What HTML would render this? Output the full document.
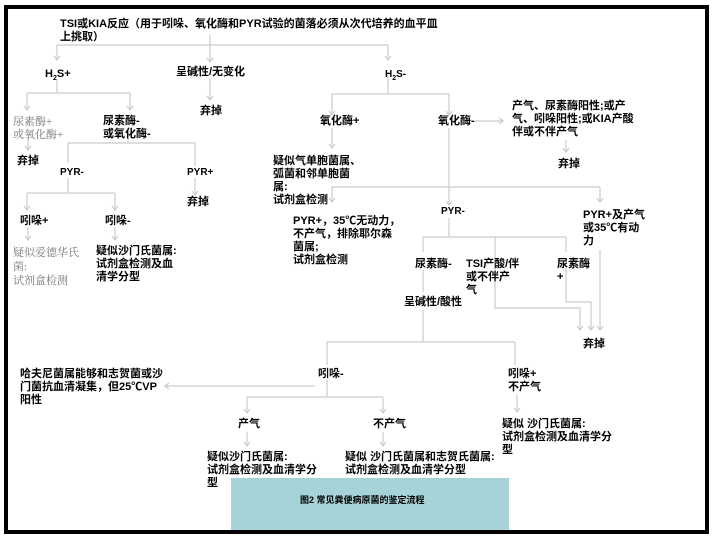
<!DOCTYPE html>
<html><head><meta charset="utf-8"><style>
html,body{margin:0;padding:0;background:#fff}
#c{position:relative;width:718px;height:538px;overflow:hidden;background:#fff;font-family:"Liberation Sans","Noto Sans CJK SC",sans-serif;font-weight:bold;font-size:11px;line-height:13px;color:#000}
.t{position:absolute;white-space:nowrap}
.g{color:#777;font-family:"Liberation Serif","Noto Serif CJK SC",serif;font-weight:normal}
svg{position:absolute;left:0;top:0}
</style></head><body><div id="c">
<svg width="718" height="538">
<rect x="6" y="7" width="701" height="525" fill="none" stroke="#000" stroke-width="4"/>
<rect x="231" y="478" width="278" height="52" fill="#a6d3d7"/>
<g stroke="#ccc" stroke-width="1.2" fill="none">
<path d="M57 45H388M57 45V60M388 45V60M210 35V62"/>
<path d="M57 80V93M27 93H130M27 93V110M130 93V110"/>
<path d="M210 78V100M28 138V150"/>
<path d="M128 138V143M68 143H195M68 143V163M195 143V166M195 178V195"/>
<path d="M68 178V193M27 193H115M27 193V210M115 193V210M28 227V240M115 227V240"/>
<path d="M388 75V94M332 94H449M332 94V115M449 94V115M475 121H503M566 140V152"/>
<path d="M332 128V148M449 128V205M332 187H600M332 187V202M600 187V202"/>
<path d="M449 218V237M423 237H566M423 237V252M495 237V308H580V330M566 237V252M566 268V302H591V330M600 250V330"/>
<path d="M423 270V292M423 310V342M327 342H515M327 342V365M515 342V365"/>
<path d="M327 380V397M247 397H383M247 397V413M383 397V413M247 432V446M383 432V446"/>
<path d="M315 386H165M517 395V412"/>
</g>
<g stroke="#ccc" stroke-width="1.2" fill="none">
<path d="M54 56l3 4 3-4M385 56l3 4 3-4M207 58l3 4 3-4M24 106l3 4 3-4M127 106l3 4 3-4M207 96l3 4 3-4M25 146l3 4 3-4M192 191l3 4 3-4M24 206l3 4 3-4M112 206l3 4 3-4M25 236l3 4 3-4M112 236l3 4 3-4M329 111l3 4 3-4M446 111l3 4 3-4M499 118l4 3-4 3M563 148l3 4 3-4M329 144l3 4 3-4M446 201l3 4 3-4M329 198l3 4 3-4M597 198l3 4 3-4M577 326l3 4 3-4M588 326l3 4 3-4M597 326l3 4 3-4M244 409l3 4 3-4M380 409l3 4 3-4M244 442l3 4 3-4M380 442l3 4 3-4M169 383l-4 3 4 3M514 408l3 4 3-4"/>
</g>
</svg>
<div class="t" style="left:60px;top:18px">TSI或KIA反应（用于吲哚、氧化酶和PYR试验的菌落必须从次代培养的血平皿<br>上挑取）</div>
<div class="t" style="left:45px;top:68px">H<sub style="font-size:7px">2</sub>S+</div>
<div class="t" style="left:176px;top:66px">呈碱性/无变化</div>
<div class="t" style="left:385px;top:68px;font-size:10px">H<sub style="font-size:7px">2</sub>S-</div>
<div class="t" style="left:200px;top:105px">弃掉</div>
<div class="t g" style="left:13px;top:116px">尿素酶+<br>或氧化酶+</div>
<div class="t" style="left:103px;top:115px">尿素酶-<br>或氧化酶-</div>
<div class="t" style="left:17px;top:155px">弃掉</div>
<div class="t" style="left:60px;top:166px;font-size:10px">PYR-</div>
<div class="t" style="left:187px;top:166px;font-size:10px">PYR+</div>
<div class="t" style="left:187px;top:196px">弃掉</div>
<div class="t" style="left:20px;top:215px">吲哚+</div>
<div class="t" style="left:105px;top:215px">吲哚-</div>
<div class="t g" style="left:13px;top:246px;line-height:14px">疑似爱德华氏<br>菌:<br>试剂盒检测</div>
<div class="t" style="left:96px;top:245px">疑似沙门氏菌属:<br>试剂盒检测及血<br>清学分型</div>
<div class="t" style="left:320px;top:115px">氧化酶+</div>
<div class="t" style="left:438px;top:115px">氧化酶-</div>
<div class="t" style="left:512px;top:100px">产气、尿素酶阳性;或产<br>气、吲哚阳性;或KIA产酸<br>伴或不伴产气</div>
<div class="t" style="left:558px;top:158px">弃掉</div>
<div class="t" style="left:273px;top:155px">疑似气单胞菌属、<br>弧菌和邻单胞菌<br>属:<br>试剂盒检测</div>
<div class="t" style="left:293px;top:215px">PYR+，35℃无动力，<br>不产气，排除耶尔森<br>菌属;<br>试剂盒检测</div>
<div class="t" style="left:441px;top:205px;font-size:10px">PYR-</div>
<div class="t" style="left:583px;top:209px">PYR+及产气<br>或35℃有动<br>力</div>
<div class="t" style="left:415px;top:258px">尿素酶-</div>
<div class="t" style="left:466px;top:258px">TSI产酸/伴<br>或不伴产<br>气</div>
<div class="t" style="left:557px;top:258px">尿素酶<br>+</div>
<div class="t" style="left:404px;top:296px">呈碱性/酸性</div>
<div class="t" style="left:583px;top:338px">弃掉</div>
<div class="t" style="left:20px;top:368px">哈夫尼菌属能够和志贺菌或沙<br>门菌抗血清凝集，但25℃VP<br>阳性</div>
<div class="t" style="left:318px;top:368px">吲哚-</div>
<div class="t" style="left:508px;top:368px">吲哚+<br>不产气</div>
<div class="t" style="left:238px;top:418px">产气</div>
<div class="t" style="left:373px;top:418px">不产气</div>
<div class="t" style="left:502px;top:418px">疑似 沙门氏菌属:<br>试剂盒检测及血清学分<br>型</div>
<div class="t" style="left:207px;top:451px">疑似沙门氏菌属:<br>试剂盒检测及血清学分<br>型</div>
<div class="t" style="left:345px;top:451px">疑似 沙门氏菌属和志贺氏菌属:<br>试剂盒检测及血清学分型</div>
<div class="t" style="left:300px;top:494px;font-size:9px">图2 常见粪便病原菌的鉴定流程</div>
</div></body></html>
